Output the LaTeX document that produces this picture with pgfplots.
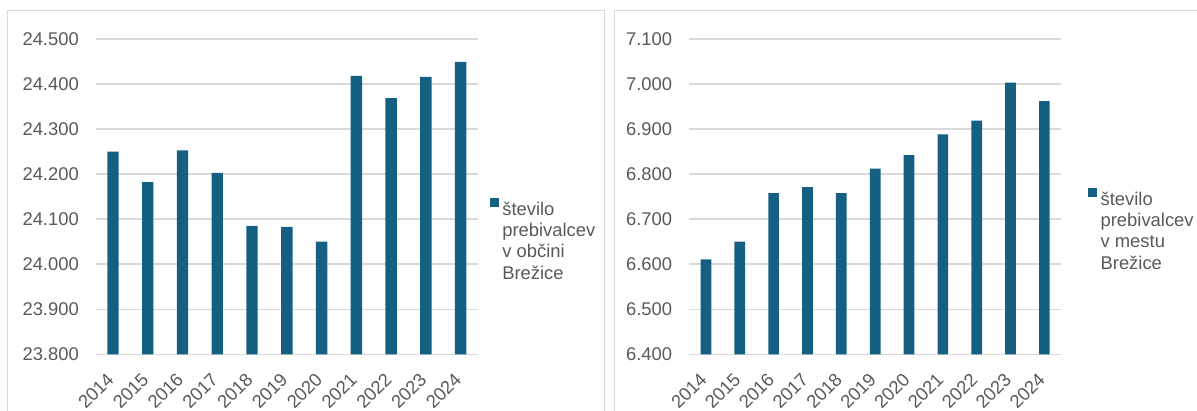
\documentclass[border=0pt]{standalone}
\usepackage{fontspec}
\setmainfont{Liberation Sans}
\usepackage{pgfplots}
\pgfplotsset{compat=1.18}

\definecolor{barblue}{HTML}{156082}
\definecolor{txtgray}{HTML}{595959}
\definecolor{gridgray}{HTML}{D9D9D9}

\newcommand{\lblfont}{\fontsize{18.4bp}{21.2bp}\selectfont}

\pgfplotsset{
  brezice/.style={
    scale only axis,
    height=315.3bp,
    anchor=south west,
    xmin=-0.5, xmax=10.5,
    xtick={0,...,10},
    xticklabels={2014,2015,2016,2017,2018,2019,2020,2021,2022,2023,2024},
    axis line style={draw=none},
    tick style={draw=none},
    scaled y ticks=false,
    ymajorgrids,
    grid style={line width=1.5bp, gridgray},
    every tick label/.append style={font=\lblfont, text=txtgray},
    /pgf/number format/assume math mode=true,
    yticklabel style={/pgf/number format/fixed, /pgf/number format/precision=0,
      /pgf/number format/1000 sep={.}, inner sep=0pt, xshift=-16.7bp},
    xticklabel style={xshift=-2.5bp, yshift=-22bp, rotate=45, anchor=east, inner sep=0pt},
    legend style={draw=none, fill=none, inner sep=0pt, outer sep=0pt,
      font=\lblfont, text=txtgray, nodes={inner sep=0pt}},
    legend image code/.code={
      \fill[barblue] (0bp,2bp) rectangle (9bp,11bp);
    },
  }
}

\begin{document}
\begin{tikzpicture}
\useasboundingbox (0,0) rectangle (1197bp,411bp);

% frames
\draw[gridgray, line width=1bp] (7.3bp,-2bp) -- (7.3bp,400.3bp) -- (604.3bp,400.3bp) -- (604.3bp,-2bp);
\draw[gridgray, line width=1bp] (614.3bp,-2bp) -- (614.3bp,400.3bp) -- (1200bp,400.3bp);

% obcina
\begin{axis}[brezice,
  at={(95.7bp,56.7bp)},
  width=382.3bp,
  ymin=23800, ymax=24500,
  ytick={23800,23900,24000,24100,24200,24300,24400,24500},
  legend style={at={(1.0314,0.496)}, anchor=north west},
]
\addplot[ybar, bar width=11.3bp, fill=barblue, draw=none] coordinates {
  (0,24250) (1,24182) (2,24253) (3,24203) (4,24085) (5,24083)
  (6,24050) (7,24418) (8,24369) (9,24416) (10,24449)
};
\addlegendentry{\begin{tabular}[t]{@{\hspace{3.3bp}}l@{}}število\\prebivalcev\\v občini\\Brežice\end{tabular}}
\end{axis}

% mesto
\begin{axis}[brezice,
  at={(689bp,56.7bp)},
  width=372.3bp,
  ymin=6400, ymax=7100,
  ytick={6400,6500,6600,6700,6800,6900,7000,7100},
  legend style={at={(1.0725,0.528)}, anchor=north west},
]
\addplot[ybar, bar width=10.7bp, fill=barblue, draw=none] coordinates {
  (0,6611) (1,6650) (2,6758) (3,6771) (4,6758) (5,6812)
  (6,6842) (7,6888) (8,6919) (9,7003) (10,6962)
};
\addlegendentry{\begin{tabular}[t]{@{\hspace{3.3bp}}l@{}}število\\prebivalcev\\v mestu\\Brežice\end{tabular}}
\end{axis}
\end{tikzpicture}
\end{document}
